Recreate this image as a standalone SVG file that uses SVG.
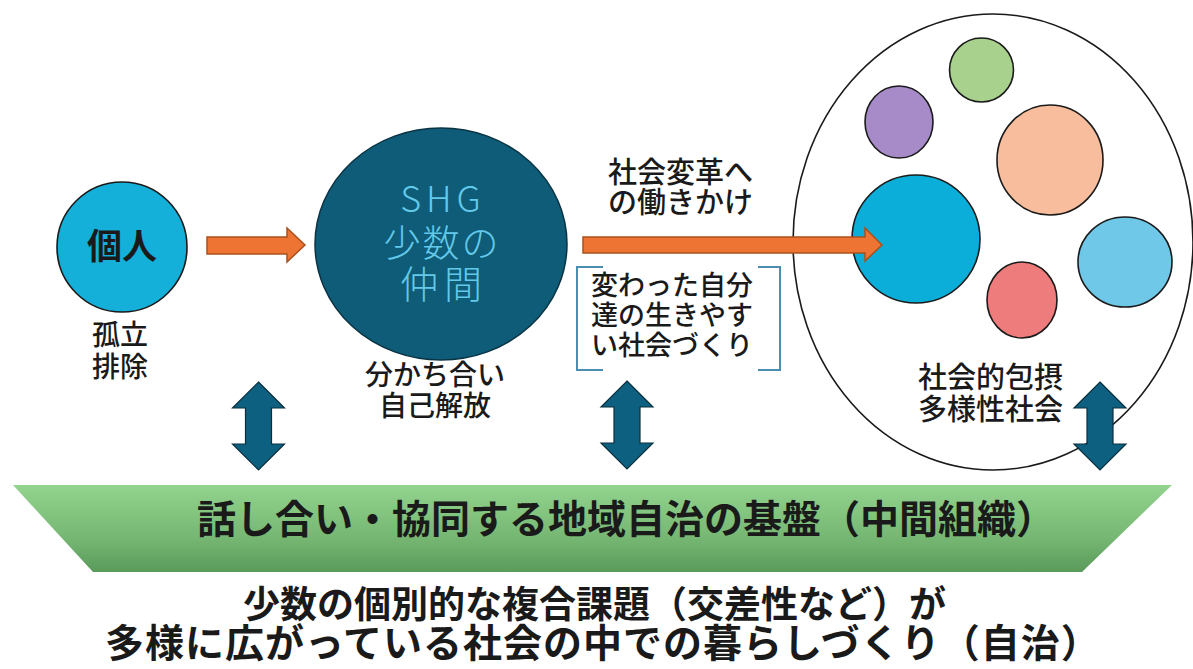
<svg xmlns="http://www.w3.org/2000/svg" width="1193" height="669" viewBox="0 0 1193 669">
<defs>
<style>
.jp{font-family:"Noto Sans CJK JP","Noto Sans",sans-serif;fill:#1a1a1a}
.b{font-weight:700}
.m{font-weight:500}
.lt{font-family:"Noto Sans CJK JP","Noto Sans",sans-serif;font-weight:300;fill:#62c9ea}
.orange{fill:#ee7434;stroke:#a9501c;stroke-width:1.5}
.dbl{fill:#0d6080;stroke:#0a2f3d;stroke-width:1.2}
.ring{stroke:#1a1a1a;stroke-width:1.6}
</style>
<linearGradient id="band" x1="0" y1="0" x2="0" y2="1">
<stop offset="0" stop-color="#92d38e"/>
<stop offset="0.6" stop-color="#76b873"/>
<stop offset="1" stop-color="#5a9a5b"/>
</linearGradient>
<path id="dblarrow" d="M0,-44 L26,-18 L13,-18 L13,18 L26,18 L0,44 L-26,18 L-13,18 L-13,-18 L-26,-18 Z"/>
</defs>
<rect width="1193" height="669" fill="#ffffff"/>

<g id="society">
<ellipse cx="993" cy="242" rx="200" ry="228" fill="#ffffff" stroke="#1a1a1a" stroke-width="1.6"/>
<circle cx="981.5" cy="70" r="32" fill="#a9d18e" class="ring"/>
<ellipse cx="899" cy="122" rx="34" ry="36" fill="#a68bc8" class="ring"/>
<ellipse cx="1050" cy="160" rx="53" ry="55" fill="#f8bd9d" class="ring"/>
<ellipse cx="1125" cy="262" rx="47" ry="45" fill="#6fc8e7" class="ring"/>
<ellipse cx="1022" cy="300" rx="35" ry="38" fill="#ee7c7c" class="ring"/>
<circle cx="916" cy="239" r="64" fill="#0aaed8" class="ring"/>
<text class="jp m" font-size="29" x="918" y="388">社会的包摂</text>
<text class="jp m" font-size="29" x="918" y="420">多様性社会</text>
</g>

<g id="individual">
<circle cx="122" cy="247" r="65" fill="#14b0d9" class="ring"/>
<text class="jp b" font-size="35" x="122" y="259" text-anchor="middle">個人</text>
<text class="jp m" font-size="28" x="92" y="345">孤立</text>
<text class="jp m" font-size="28" x="92" y="377">排除</text>
</g>

<g id="shg">
<ellipse cx="441" cy="244" rx="126" ry="116" fill="#0e5c77" stroke="#0a3444" stroke-width="1.5"/>
<text class="lt" font-size="36" x="443" y="212" text-anchor="middle" letter-spacing="5">SHG</text>
<text class="lt" font-size="37" x="442" y="257" text-anchor="middle" letter-spacing="2">少数の</text>
<text class="lt" font-size="38" x="444" y="298" text-anchor="middle" letter-spacing="6">仲間</text>
<text class="jp m" font-size="28" x="435" y="385" text-anchor="middle">分かち合い</text>
<text class="jp m" font-size="28" x="435" y="416" text-anchor="middle">自己解放</text>
</g>

<g id="change-label">
<text class="jp m" font-size="29" x="608" y="183">社会変革へ</text>
<text class="jp m" font-size="29" x="608" y="213">の働きかけ</text>
</g>

<g id="bracket-note">
<path d="M603,267 H577 V370 H603 M758,267 H780 V370 H758" fill="none" stroke="#4b8fb0" stroke-width="2"/>
<text class="jp m" font-size="27" x="591" y="295">変わった自分</text>
<text class="jp m" font-size="27" x="591" y="325">達の生きやす</text>
<text class="jp m" font-size="27" x="591" y="355">い社会づくり</text>
</g>

<g id="connectors">
<polygon class="orange" points="207,237 287,237 287,228 305,245 287,262 287,254 207,254"/>
<polygon class="orange" points="583,237 865,237 865,228 882,245 865,261 865,253 583,253"/>
<use href="#dblarrow" class="dbl" x="258.5" y="426"/>
<use href="#dblarrow" class="dbl" x="627" y="425"/>
<use href="#dblarrow" class="dbl" x="1100" y="426"/>
</g>

<g id="base-band">
<polygon points="13,485 1172,485 1082,572 93,572" fill="url(#band)"/>
<text class="jp b" font-size="39" x="197" y="533">話し合い・協同する地域自治の基盤（中間組織）</text>
</g>

<g id="bottom-text">
<text class="jp b" font-size="37" x="243" y="618">少数の個別的な複合課題（交差性など）が</text>
<text class="jp b" font-size="39" x="105" y="657" letter-spacing="1">多様に広がっている社会の中での暮らしづくり（自治）</text>
</g>
</svg>
